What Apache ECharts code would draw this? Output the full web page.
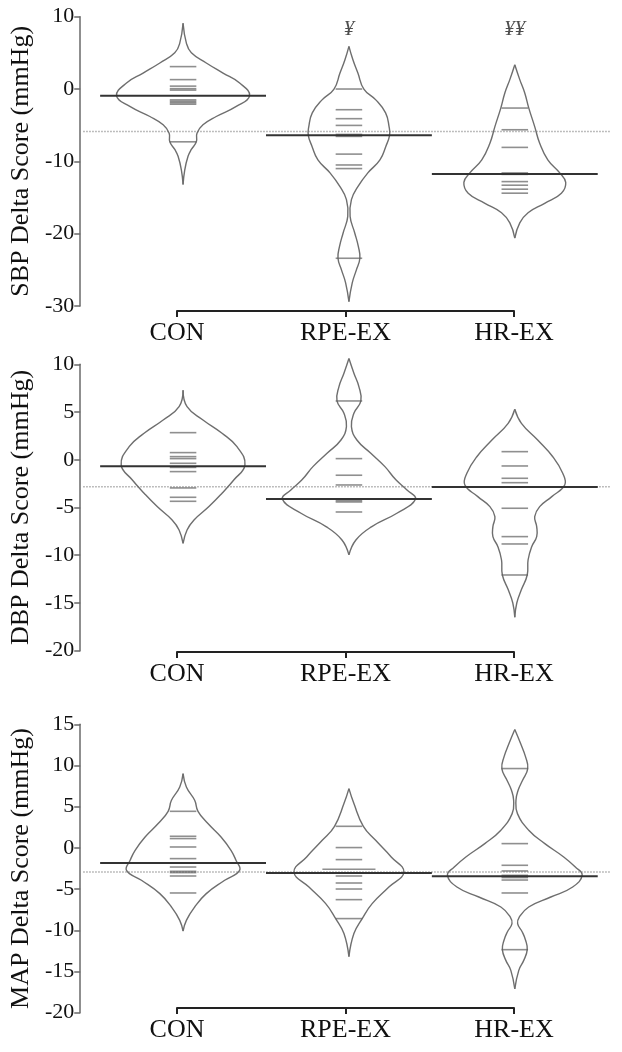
<!DOCTYPE html>
<html><head><meta charset="utf-8">
<script src="https://cdn.jsdelivr.net/npm/echarts@6/dist/echarts.min.js"></script>
<style>html,body{margin:0;padding:0;background:#fff}#c{width:622px;height:1052px}</style>
</head><body><div id="c"></div>
<script>
const categories = ['CON', 'RPE-EX', 'HR-EX'];
const panelTitles = ['SBP Delta Score (mmHg)', 'DBP Delta Score (mmHg)', 'MAP Delta Score (mmHg)'];
const yMin = [-30, -20, -20];
const yMax = [10, 10, 15];
const yInterval = [10, 5, 5];

// Bean density outlines: [value, half-width in category units], bottom tip -> top tip
const sbpBeanCON = [[-13.2,0],[-11.2,0.010],[-9.3,0.030],[-8.35,0.050],[-7.3,0.080],[-6.1,0.084],[-4.95,0.120],[-3.8,0.200],[-2.4,0.321],[-0.93,0.401],[0.83,0.341],[2.2,0.241],[3.6,0.140],[5.0,0.050],[6.35,0.020],[9.1,0]];
const sbpBeanRPE = [[-29.4,0],[-26.8,0.020],[-25.0,0.045],[-23.4,0.066],[-21.8,0.057],[-19.9,0.035],[-17.6,0.007],[-15.3,0.015],[-13.5,0.054],[-11.6,0.114],[-9.8,0.187],[-7.9,0.223],[-6.4,0.245],[-5.2,0.242],[-3.3,0.221],[-1.5,0.162],[0.0,0.090],[2.2,0.054],[4.05,0.024],[5.9,0]];
const sbpBeanHR = [[-20.6,0],[-18.5,0.030],[-17.1,0.080],[-15.8,0.180],[-14.4,0.281],[-12.9,0.307],[-11.6,0.271],[-9.8,0.199],[-7.5,0.150],[-5.2,0.120],[-2.6,0.084],[-0.55,0.060],[1.3,0.030],[3.36,0]];

const dbpBeanCON = [[-8.75,0],[-7.35,0.024],[-6.3,0.066],[-4.9,0.156],[-3.5,0.235],[-2.1,0.307],[-0.54,0.373],[1.37,0.325],[2.78,0.235],[4.17,0.120],[5.57,0.024],[7.29,0]];
const dbpBeanRPE = [[-9.97,0],[-8.4,0.042],[-7.0,0.138],[-5.6,0.289],[-4.14,0.401],[-3.16,0.350],[-2.1,0.283],[-0.72,0.217],[0.68,0.132],[2.07,0.048],[3.47,0.015],[4.87,0.030],[6.16,0.072],[7.66,0.060],[9.06,0.030],[10.6,0]];
const dbpBeanHR = [[-16.5,0],[-15.0,0.012],[-13.6,0.040],[-12.07,0.075],[-10.5,0.080],[-9.1,0.102],[-8.05,0.132],[-7.0,0.132],[-5.96,0.120],[-4.91,0.150],[-3.86,0.223],[-2.64,0.301],[-1.42,0.289],[0.32,0.229],[2.07,0.138],[3.82,0.040],[5.29,0]];

const mapBeanCON = [[-10.1,0],[-8.79,0.020],[-7.17,0.070],[-5.55,0.140],[-3.93,0.251],[-2.72,0.341],[-1.5,0.319],[-0.29,0.289],[1.32,0.229],[2.95,0.150],[4.44,0.090],[5.78,0.070],[7.4,0.020],[9.02,0]];
const mapBeanRPE = [[-13.2,0],[-10.4,0.030],[-8.58,0.080],[-6.76,0.140],[-4.75,0.241],[-2.93,0.331],[-1.1,0.255],[0.92,0.161],[2.62,0.087],[5.38,0.030],[7.2,0]];
const mapBeanHR = [[-17.1,0],[-14.86,0.024],[-13.65,0.054],[-12.35,0.075],[-11.2,0.065],[-10.2,0.045],[-9.2,0.017],[-8.39,0.027],[-7.17,0.084],[-5.96,0.217],[-4.75,0.349],[-3.3,0.406],[-2.32,0.365],[-1.1,0.295],[0.52,0.181],[2.14,0.084],[4.16,0.016],[5.78,0.007],[7.0,0.020],[8.2,0.047],[9.63,0.078],[11.04,0.065],[12.66,0.035],[14.36,0]];

// Individual observations (bean lines)
const sbpObsCON = [3.1, 1.3, 0.4, 0.05, -0.15, -1.5, -1.7, -1.9, -2.1, -7.3];
const sbpObsRPE = [0.0, -2.86, -4.1, -5.03, -6.28, -6.55, -9.0, -10.5, -11.0, -23.4];
const sbpObsHR = [-2.63, -5.63, -8.07, -11.6, -11.8, -12.8, -13.3, -13.85, -14.4];
const dbpObsCON = [2.84, 0.75, 0.33, 0.12, -0.37, -0.8, -1.24, -2.95, -3.93, -4.35];
const dbpObsRPE = [6.16, 0.12, -1.62, -2.64, -4.28, -4.42, -5.47];
const dbpObsHR = [0.85, -0.65, -1.94, -2.4, -5.08, -8.05, -8.82, -12.07];
const mapObsCON = [4.44, 1.41, 1.13, 0.11, -1.3, -2.32, -2.84, -3.0, -3.41, -5.47];
const mapObsRPE = [2.62, 0.04, -1.42, -2.6, -2.6, -3.41, -4.26, -4.99, -6.28, -8.58];
const mapObsHR = [9.63, 0.52, -2.11, -2.8, -3.33, -3.6, -3.9, -5.47, -12.35];

// Group means and overall means
const sbpMeans = [-0.93, -6.4, -11.75];
const dbpMeans = [-0.68, -4.1, -2.85];
const mapMeans = [-1.83, -3.05, -3.45];
const overallMeans = [-5.86, -2.82, -2.93];

// Significance marks (SBP panel)
const sigMarks = ['', '¥', '¥¥'];
const sigValue = 8.2;

const beans = [[sbpBeanCON, sbpBeanRPE, sbpBeanHR],[dbpBeanCON, dbpBeanRPE, dbpBeanHR],[mapBeanCON, mapBeanRPE, mapBeanHR]];
const obs = [[sbpObsCON, sbpObsRPE, sbpObsHR],[dbpObsCON, dbpObsRPE, dbpObsHR],[mapObsCON, mapObsRPE, mapObsHR]];
const means = [sbpMeans, dbpMeans, mapMeans];

const FONT = "'Liberation Serif', 'Times New Roman', serif";
const plotTops = [16.7, 364.3, 724.3];
const plotHeights = [289.3, 286.4, 288.4];
const bracketTops = [310, 651, 1007];
const X_MIN = 0.38, X_MAX = 3.58;
const BEANLINE_HALF = 0.08, MEAN_HALF = 0.5;

const grid = [], xAxis = [], yAxis = [], series = [];
for (let p = 0; p < 3; p++) {
  grid.push({ left: 79, width: 532, top: plotTops[p], height: plotHeights[p] });
  xAxis.push({ gridIndex: p, type: 'value', min: X_MIN, max: X_MAX, show: false });
  yAxis.push({
    gridIndex: p, type: 'value', min: yMin[p], max: yMax[p], interval: yInterval[p],
    name: panelTitles[p], nameLocation: 'middle', nameGap: 41, nameRotate: 90,
    nameTextStyle: { fontFamily: FONT, fontSize: 26, color: '#111' },
    axisLine: { show: true, lineStyle: { color: '#6a6a6a', width: 1.5 } },
    axisTick: { show: true, length: 6, lineStyle: { color: '#6a6a6a', width: 1.5 } },
    axisLabel: { fontFamily: FONT, fontSize: 22, color: '#111', margin: 6 },
    splitLine: { show: false }
  });
}
for (let p = 0; p < 3; p++) {
  grid.push({ left: 177, width: 337, top: bracketTops[p], height: 1 });
  xAxis.push({
    gridIndex: 3 + p, type: 'category', data: categories, boundaryGap: false,
    axisLine: { show: true, lineStyle: { color: '#222', width: 2 } },
    axisTick: { show: true, length: 6, interval: 0, lineStyle: { color: '#222', width: 2 } },
    axisLabel: { interval: 0, fontFamily: FONT, fontSize: 26, color: '#111', margin: 9 }
  });
  yAxis.push({ gridIndex: 3 + p, type: 'value', show: false });
}

for (let p = 0; p < 3; p++) {
  // overall mean dotted line
  series.push({
    type: 'custom', xAxisIndex: p, yAxisIndex: p, silent: true, z: 1,
    data: [[overallMeans[p]]],
    renderItem: (params, api) => {
      const cs = params.coordSys;
      const y = api.coord([1, api.value(0)])[1];
      return { type: 'line', shape: { x1: cs.x + 3, y1: y, x2: cs.x + cs.width, y2: y },
        style: { stroke: '#a8a8a8', lineWidth: 1.5, lineDash: [1.5, 1.5] } };
    }
  });
  // beans: two smooth half-outlines per group
  series.push({
    type: 'custom', xAxisIndex: p, yAxisIndex: p, silent: true, z: 2,
    data: categories.map((_, i) => [i + 1]),
    renderItem: (params, api) => {
      const c = api.value(0);
      const prof = beans[p][c - 1];
      const style = { stroke: '#6e6e6e', lineWidth: 1.4, fill: null };
      const right = prof.map(([v, w]) => api.coord([c + w, v]));
      const left = prof.map(([v, w]) => api.coord([c - w, v]));
      return { type: 'group', children: [
        { type: 'polyline', shape: { points: right, smooth: 0.45 }, style },
        { type: 'polyline', shape: { points: left, smooth: 0.45 }, style }
      ] };
    }
  });
  // bean lines (ties get longer lines)
  const lineData = [];
  for (let c = 0; c < 3; c++) {
    const seen = {};
    obs[p][c].forEach(v => { seen[v] = (seen[v] || 0) + 1; });
    Object.keys(seen).forEach(k => lineData.push([c + 1, Number(k), seen[k]]));
  }
  series.push({
    type: 'custom', xAxisIndex: p, yAxisIndex: p, silent: true, z: 3,
    data: lineData,
    renderItem: (params, api) => {
      const c = api.value(0), v = api.value(1), n = api.value(2);
      const a = api.coord([c - BEANLINE_HALF * n, v]);
      const b = api.coord([c + BEANLINE_HALF * n, v]);
      return { type: 'line', shape: { x1: a[0], y1: a[1], x2: b[0], y2: b[1] },
        style: { stroke: 'rgba(95,95,95,0.7)', lineWidth: 1.6 } };
    }
  });
  // group means
  series.push({
    type: 'custom', xAxisIndex: p, yAxisIndex: p, silent: true, z: 4,
    data: means[p].map((m, i) => [i + 1, m]),
    renderItem: (params, api) => {
      const c = api.value(0), v = api.value(1);
      const a = api.coord([c - MEAN_HALF, v]);
      const b = api.coord([c + MEAN_HALF, v]);
      return { type: 'line', shape: { x1: a[0], y1: a[1], x2: b[0], y2: b[1] },
        style: { stroke: '#333', lineWidth: 2 } };
    }
  });
}
// significance marks
series.push({
  type: 'scatter', xAxisIndex: 0, yAxisIndex: 0, symbolSize: 0, silent: true, z: 5,
  data: sigMarks.map((m, i) => ({ name: m, value: [i + 1, sigValue] })).filter(d => d.name),
  label: { show: true, position: 'inside', formatter: '{b}', fontFamily: FONT,
    fontStyle: 'italic', fontSize: 21, color: '#222' }
});

const chart = echarts.init(document.getElementById('c'), null, { renderer: 'canvas' });
chart.setOption({ animation: false, backgroundColor: '#fff', grid, xAxis, yAxis, series });
</script></body></html>
